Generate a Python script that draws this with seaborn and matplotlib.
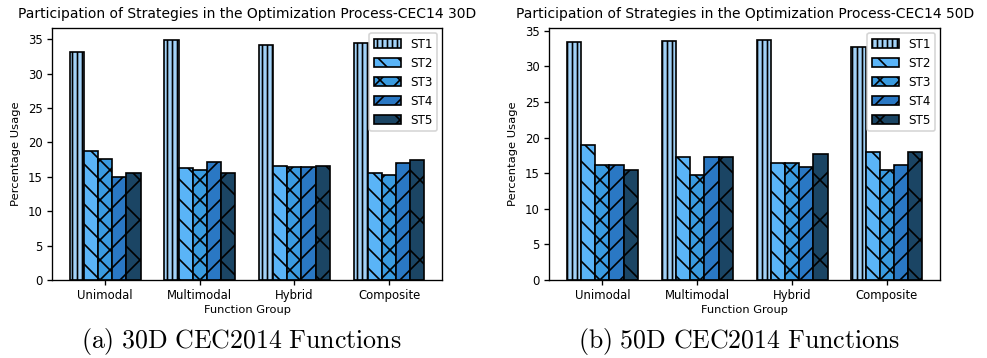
import pandas as pd
import matplotlib
matplotlib.use("Agg")
import matplotlib.pyplot as plt
from matplotlib.patches import Patch
import seaborn as sns

# Data
groups = ["Unimodal", "Multimodal", "Hybrid", "Composite"]
strategies = ["ST1", "ST2", "ST3", "ST4", "ST5"]

# values per strategy, one entry per function group
usage_30d = {
    "ST1": [33.1, 34.9, 34.1, 34.5],
    "ST2": [18.8, 16.3, 16.6, 15.5],
    "ST3": [17.6, 15.95, 16.4, 15.3],
    "ST4": [14.9, 17.1, 16.4, 17.0],
    "ST5": [15.5, 15.6, 16.5, 17.5],
}
usage_50d = {
    "ST1": [33.4, 33.6, 33.7, 32.7],
    "ST2": [19.0, 17.2, 16.4, 18.0],
    "ST3": [16.2, 14.7, 16.4, 15.4],
    "ST4": [16.2, 17.2, 15.9, 16.2],
    "ST5": [15.5, 17.3, 17.7, 17.9],
}

colors = ["#a2d2f8", "#5ab4f7", "#3a9be0", "#2a78c4", "#1b4564"]
hatches = ["||||", "\\\\", "xx", "//", "x"]

titles = [
    "Participation of Strategies in the Optimization Process-CEC14 30D",
    "Participation of Strategies in the Optimization Process-CEC14 50D",
]
captions = [r"$\mathrm{(a)\ 30D\ CEC2014\ Functions}$",
            r"$\mathrm{(b)\ 50D\ CEC2014\ Functions}$"]

sns.set_theme(style="ticks", rc={
    "text.color": "black", "axes.labelcolor": "black",
    "xtick.color": "black", "ytick.color": "black",
    "axes.edgecolor": "black",
})
plt.rcParams["font.family"] = ["DejaVu Sans"]
plt.rcParams["mathtext.fontset"] = "cm"
plt.rcParams["hatch.linewidth"] = 1.0


def to_long(usage):
    rows = []
    for s in strategies:
        for g, v in zip(groups, usage[s]):
            rows.append({"group": g, "strategy": s, "value": v})
    return pd.DataFrame(rows)


fig = plt.figure(figsize=(988 / 120, 358 / 120), dpi=120)
ax_pos = [[0.0526, 0.218, 0.395, 0.704], [0.5557, 0.218, 0.396, 0.704]]

for i, usage in enumerate([usage_30d, usage_50d]):
    ax = fig.add_axes(ax_pos[i])
    df = to_long(usage)
    sns.barplot(data=df, x="group", y="value", hue="strategy",
                hue_order=strategies, order=groups, palette=colors,
                width=0.75, saturation=1, errorbar=None,
                edgecolor="black", linewidth=1, legend=False, ax=ax)
    for cont, h in zip(ax.containers, hatches):
        for bar in cont:
            bar.set_hatch(h)

    ax.set_title(titles[i], fontsize=8.3)
    ax.set_xlabel("Function Group", fontsize=6.8, labelpad=2)
    ax.set_ylabel("Percentage Usage", fontsize=6.9)
    ax.tick_params(labelsize=7, length=3, width=0.8, pad=2.5)
    ax.set_xlim(-0.5625, 3.5625)
    for sp in ax.spines.values():
        sp.set_linewidth(0.8)

    handles = [Patch(facecolor=c, edgecolor="black", hatch=h, label=s)
               for c, h, s in zip(colors, hatches, strategies)]
    ax.legend(handles=handles, loc="upper right", fontsize=7.2, frameon=True,
              handlelength=2.2, borderaxespad=0.4)

    fig.text([0.244, 0.748][i], 0.045, captions[i], fontsize=15.5,
             ha="center", va="center")

fig.savefig("out.png", dpi=120)
